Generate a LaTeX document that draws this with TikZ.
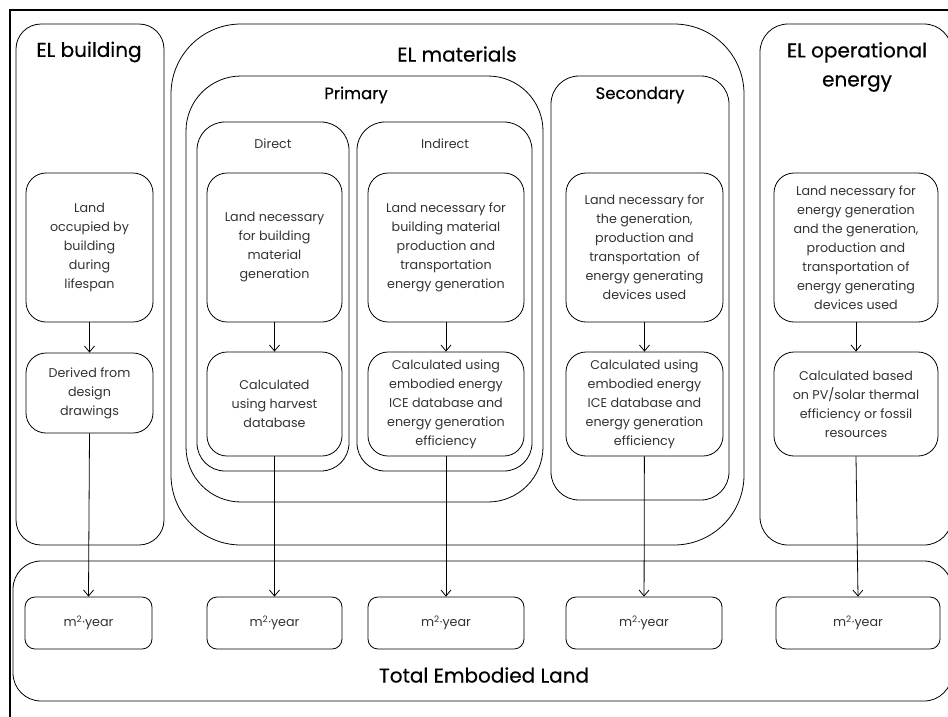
\documentclass[tikz,border=0pt]{standalone}
\usepackage{fontspec}
\setmainfont{Poppins}
\usepackage{tikz}
\usetikzlibrary{positioning,calc,arrows.meta}

\newcommand{\bodyfont}{\fontsize{12.7}{19}\selectfont}
\newcommand{\headfont}{\fontsize{20}{29}\selectfont\addfontfeatures{FakeBold=0.4}}
\newcommand{\subfont}{\fontsize{16.5}{20}\selectfont\addfontfeatures{FakeBold=0.4}}

\begin{document}
\begin{tikzpicture}[x=1pt,y=-1pt,line width=0.8pt,
        box/.style={draw,rounded corners=20pt,align=center,inner sep=0pt,font=\bodyfont,text=black!80},
        unitbox/.style={draw,rounded corners=10pt,align=center,inner sep=0pt,minimum height=52pt,font=\bodyfont,text=black!80},
        flow/.style={-{Straight Barb[length=6pt,width=10pt]}}]
        \useasboundingbox (0,0) rectangle (948,716);
        \clip (0,0) rectangle (948,716);
        % outer frame
        \draw[line width=2pt] (10,10) rectangle (960,730);
        % groups
        \draw[rounded corners=25pt] (16,24) rectangle (164,545);
        \draw[rounded corners=70pt] (171,24) rectangle (744,545);
        \draw[rounded corners=55pt] (186,76) rectangle (543,502);
        \draw[rounded corners=28pt] (197,122) rectangle (349,471);
        \draw[rounded corners=28pt] (357,122) rectangle (532,471);
        \draw[rounded corners=28pt] (551,76) rectangle (729,500);
        \draw[rounded corners=28pt] (760,24) rectangle (952,545);
        \draw[rounded corners=28pt] (13,561) rectangle (952,701);
        % headings
        \node[font=\headfont] (hbld) at (89,52) {EL building};
        \node[font=\headfont] (hmat) at (457,54) {EL materials};
        \node[font=\headfont,align=center] (hop) at (857,67) {EL operational\\energy};
        \node[font=\subfont] (hpri) at (356,95) {Primary};
        \node[font=\subfont] (hsec) at (640,95) {Secondary};
        \node[font=\bodyfont,text=black!80] (hdir) at (273,144) {Direct};
        \node[font=\bodyfont,text=black!80] (hind) at (445,144) {Indirect};
        \node[font=\headfont] (total) at (484,675) {Total Embodied Land};
        % first row
        \node[box,minimum width=127pt,minimum height=149pt] (occ) at (89.5,247.5)
            {Land\\occupied by\\building\\during\\lifespan};
        \node[box,minimum width=135pt,minimum height=149pt] (dirA) at (274.5,247.5)
            {Land necessary\\for building\\material\\generation};
        \node[box,minimum width=156pt,minimum height=149pt] (indA) at (446,247.5)
            {Land necessary for\\building material\\production and\\transportation\\energy generation};
        \node[box,minimum width=157pt,minimum height=149pt] (secA) at (644.5,247.5)
            {Land necessary for\\the generation,\\production and\\transportation \ of\\energy generating\\devices used};
        \node[box,minimum width=164pt,minimum height=149pt] (opA) at (856,247.5)
            {Land necessary for\\energy generation\\and the generation,\\production and\\transportation of\\energy generating\\devices used};
        % second row
        \node[box,minimum width=127pt,minimum height=80pt] (der) at (89.5,393)
            {Derived from\\design\\drawings};
        \node[box,minimum width=135pt,minimum height=104pt] (dirB) at (274.5,404)
            {Calculated\\using harvest\\database};
        \node[box,minimum width=156pt,minimum height=104pt] (indB) at (446,404)
            {Calculated using\\embodied energy\\ICE database and\\energy generation\\efficiency};
        \node[box,minimum width=157pt,minimum height=104pt] (secB) at (644.5,404)
            {Calculated using\\embodied energy\\ICE database and\\energy generation\\efficiency};
        \node[box,minimum width=164pt,minimum height=104pt] (opB) at (856,404)
            {Calculated based\\on PV/solar thermal\\efficiency or fossil\\resources};
        % units
        \node[unitbox,minimum width=127pt] (u1) at (88.5,623) {m\textsuperscript{2}·year};
        \node[unitbox,minimum width=135pt] (u2) at (274.5,623) {m\textsuperscript{2}·year};
        \node[unitbox,minimum width=156pt] (u3) at (446,623) {m\textsuperscript{2}·year};
        \node[unitbox,minimum width=156pt] (u4) at (644,623) {m\textsuperscript{2}·year};
        \node[unitbox,minimum width=164pt] (u5) at (858,623) {m\textsuperscript{2}·year};
        % arrows
        \draw[flow] (occ) -- (der);
        \draw[flow] (dirA) -- (dirB);
        \draw[flow] (indA) -- (indB);
        \draw[flow] (secA) -- (secB);
        \draw[flow] (opA) -- (opB);
        \draw[flow] (der.south) -- (u1.north);
        \draw[flow] (dirB) -- (u2);
        \draw[flow] (indB) -- (u3);
        \draw[flow] (secB) -- (u4);
        \draw[flow] (opB.south) -- (u5.north);
    \end{tikzpicture}
\end{document}
